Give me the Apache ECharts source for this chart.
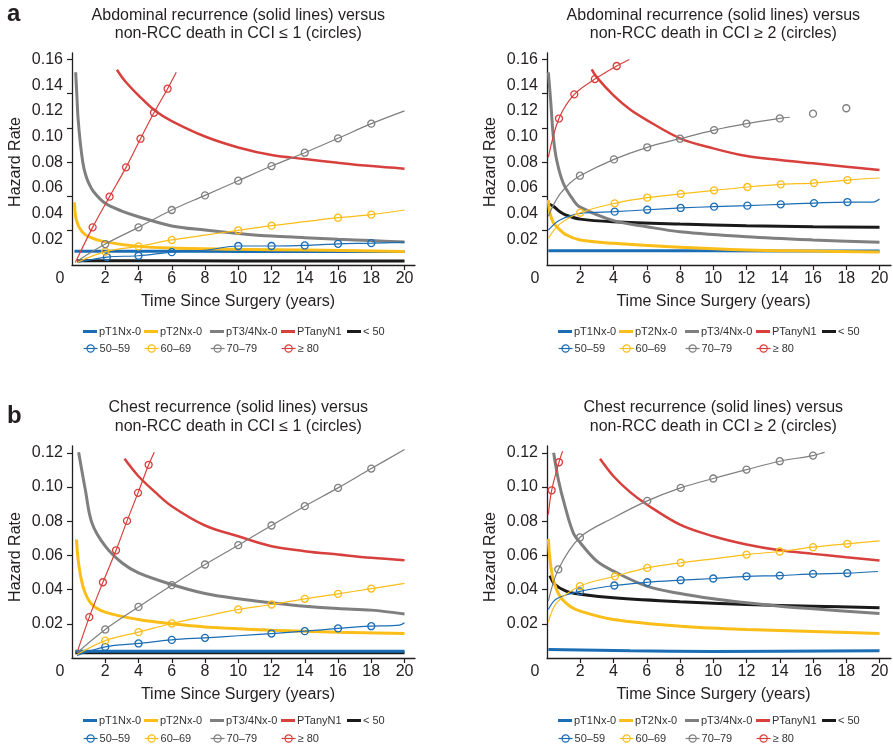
<!DOCTYPE html>
<html>
<head>
<meta charset="utf-8">
<title>Hazard rates</title>
<script src="https://cdn.jsdelivr.net/npm/echarts@6.0.0/dist/echarts.min.js"></script>
<style>
  html, body { margin: 0; padding: 0; background: #fff; }
  #chart { width: 893px; height: 749px; }
</style>
</head>
<body>
<div id="chart"></div>
<script>
// ---- labels ----
const solidNames = ['pT1Nx-0', 'pT2Nx-0', 'pT3/4Nx-0', 'PTanyN1', '< 50'];
const ageNames = ['50–59', '60–69', '70–79', '≥ 80'];
const xTickLabels = [0, 2, 4, 6, 8, 10, 12, 14, 16, 18, 20];
const yLabelsAbd = [0.02, 0.04, 0.06, 0.08, 0.10, 0.12, 0.14, 0.16];
const yLabelsChest = [0.02, 0.04, 0.06, 0.08, 0.10, 0.12];
// the abdominal panels have tick marks that do not sit on the labels
const yTicksAbd = [0.0267, 0.0534, 0.0802, 0.1068, 0.1335, 0.1601];

// ---- a, CCI <= 1 : [years, hazard] (age series: third value 1 = circle drawn) ----
const abdLow_pT1 = [[0.15, 0.0107], [5, 0.0107], [10, 0.0106], [15, 0.0106], [20, 0.0105]];
const abdLow_pT2 = [[0.15, 0.0488], [0.26, 0.035], [0.6, 0.026], [1.1, 0.0215], [2, 0.018], [4, 0.0145], [6, 0.0132], [10, 0.0122], [14, 0.0116], [20, 0.0106]];
const abdLow_pT34 = [[0.22, 0.150], [0.3, 0.130], [0.36, 0.115], [0.5, 0.095], [0.65, 0.080], [0.8, 0.071], [1.0, 0.064], [1.3, 0.057], [2, 0.048], [3, 0.042], [4, 0.0376], [6, 0.0304], [8, 0.0272], [10, 0.0246], [12, 0.0225], [14, 0.0213], [16, 0.0200], [18, 0.0190], [20, 0.0179]];
const abdLow_pTN1 = [[2.7, 0.152], [3.2, 0.143], [4, 0.132], [5, 0.120], [6, 0.112], [8, 0.100], [10, 0.0915], [12, 0.0856], [14, 0.0825], [16, 0.0796], [18, 0.0770], [20, 0.0750]];
const abdLow_lt50 = [[0.3, 0.0033], [10, 0.0032], [20, 0.0031]];
const abdLow_a5059 = [[0.3, 0.002, 0], [2.1, 0.0062, 1], [4, 0.0072, 1], [6, 0.0100, 1], [8, 0.0115, 0], [10, 0.0148, 1], [12, 0.0148, 1], [14, 0.0152, 1], [16, 0.0165, 1], [18, 0.0170, 1], [20, 0.0178, 0]];
const abdLow_a6069 = [[0.3, 0.002, 0], [2, 0.0104, 1], [4, 0.0145, 1], [6, 0.0195, 1], [8, 0.0232, 0], [10, 0.0270, 1], [12, 0.0306, 1], [14, 0.0337, 0], [16, 0.0368, 1], [18, 0.0392, 1], [20, 0.0428, 0]];
const abdLow_a7079 = [[0.3, 0.003, 0], [2, 0.0163, 1], [4, 0.0293, 1], [6, 0.0428, 1], [8, 0.0542, 1], [10, 0.0656, 1], [12, 0.0770, 1], [14, 0.0874, 1], [16, 0.0986, 1], [18, 0.1100, 1], [20, 0.1200, 0]];
const abdLow_a80 = [[0.2, 0.002, 0], [1.24, 0.0293, 1], [2.26, 0.0532, 1], [3.25, 0.0760, 1], [4.12, 0.0983, 1], [4.93, 0.1185, 1], [5.75, 0.1372, 1], [6.27, 0.1500, 0]];

// ---- a, CCI >= 2 ----
const abdHigh_pT1 = [[0.08, 0.0111], [10, 0.0110], [20, 0.0109]];
const abdHigh_pT2 = [[0.08, 0.0506], [0.18, 0.0402], [0.38, 0.0330], [0.58, 0.0298], [1.18, 0.0233], [2, 0.0195], [4, 0.0169], [8, 0.0138], [12, 0.0117], [16, 0.0108], [20, 0.0101]];
const abdHigh_pT34 = [[0.08, 0.150], [0.22, 0.128], [0.38, 0.0999], [0.58, 0.0817], [0.98, 0.0636], [1.58, 0.0506], [2, 0.0450], [4, 0.0345], [6, 0.0298], [8, 0.0259], [12, 0.0220], [16, 0.0195], [20, 0.0177]];
const abdHigh_pTN1 = [[2.69, 0.1523], [3, 0.146], [4, 0.132], [5, 0.121], [6, 0.1128], [8, 0.0986], [10, 0.0908], [12, 0.0848], [14, 0.0817], [16, 0.0791], [18, 0.0765], [20, 0.0739]];
const abdHigh_lt50 = [[0.13, 0.0475], [0.4, 0.0455], [0.8, 0.0412], [1.2, 0.0385], [2, 0.0357], [4, 0.0337], [8, 0.0319], [12, 0.0306], [16, 0.0298], [20, 0.0293]];
const abdHigh_a5059 = [[0.08, 0.0272, 0], [0.78, 0.0350, 0], [2, 0.0402, 0], [4.07, 0.0415, 1], [6.03, 0.0430, 1], [8.04, 0.0444, 1], [10.05, 0.0454, 1], [12.05, 0.0462, 1], [14.06, 0.0472, 1], [16.06, 0.0482, 1], [18.07, 0.0490, 1], [19.6, 0.0490, 0], [20, 0.0514, 0]];
const abdHigh_a6069 = [[0.08, 0.0208, 0], [0.78, 0.0320, 0], [2, 0.0407, 1], [4.07, 0.0480, 1], [6.03, 0.0524, 1], [8.04, 0.0553, 1], [10.05, 0.0581, 1], [12.05, 0.0607, 1], [14.06, 0.0628, 1], [16.06, 0.0638, 1], [18.07, 0.0661, 1], [20, 0.0677, 0]];
const abdHigh_a7079 = [[0.08, 0.0380, 0], [0.4, 0.0470, 0], [0.8, 0.0555, 0], [1.4, 0.0640, 0], [1.98, 0.0695, 1], [4.03, 0.0822, 1], [6.03, 0.0916, 1], [8, 0.0983, 1], [10.05, 0.1050, 1], [12, 0.1100, 1], [14, 0.1141, 1], [14.6, 0.1150, 0], [15.3, '-', 0], [16, 0.1178, 1], [17, '-', 0], [18, 0.1220, 1]];
const abdHigh_a80 = [[0.08, 0.0838, 0], [0.72, 0.1140, 1], [1.64, 0.1328, 1], [2.88, 0.1447, 1], [4.19, 0.1549, 1], [4.95, 0.1600, 0]];

// ---- b, CCI <= 1 ----
const chestLow_pT1 = [[0.2, 0.0040], [10, 0.0040], [20, 0.0040]];
const chestLow_pT2 = [[0.27, 0.0693], [0.42, 0.0537], [0.72, 0.0400], [1.2, 0.0313], [2, 0.0268], [4, 0.0225], [6, 0.0200], [8, 0.0182], [12, 0.0163], [16, 0.0151], [20, 0.0143]];
const chestLow_pT34 = [[0.4, 0.1204], [0.8, 0.0985], [1.2, 0.0790], [2, 0.0654], [3, 0.0557], [4, 0.0498], [6, 0.0430], [8, 0.0377], [10, 0.0346], [12, 0.0323], [14, 0.0303], [16, 0.0289], [18, 0.0280], [20, 0.0258]];
const chestLow_pTN1 = [[3.16, 0.1165], [4, 0.1063], [5, 0.0970], [6, 0.0888], [8, 0.0775], [10, 0.0712], [12, 0.0654], [14, 0.0625], [16, 0.0605], [18, 0.0586], [20, 0.0572]];
const chestLow_lt50 = [[0.2, 0.0031], [10, 0.0031], [20, 0.0031]];
const chestLow_a5059 = [[0.3, 0.0015, 0], [2, 0.0065, 1], [4, 0.0085, 1], [6, 0.0106, 1], [8, 0.0118, 1], [10, 0.0130, 0], [12, 0.0143, 1], [14, 0.0157, 1], [16, 0.0173, 1], [18, 0.0186, 1], [19.7, 0.0192, 0], [20, 0.0206, 0]];
const chestLow_a6069 = [[0.3, 0.002, 0], [2, 0.0102, 1], [4, 0.0151, 1], [6, 0.0202, 1], [8, 0.0244, 0], [10, 0.0284, 1], [12, 0.0313, 1], [14, 0.0346, 1], [16, 0.0375, 1], [18, 0.0406, 1], [20, 0.0436, 0]];
const chestLow_a7079 = [[0.3, 0.003, 0], [2, 0.0167, 1], [4, 0.0299, 1], [6, 0.0426, 1], [8, 0.0547, 1], [10, 0.0660, 1], [12, 0.0775, 1], [14, 0.0888, 1], [16, 0.0995, 1], [18, 0.1108, 1], [20, 0.1219, 0]];
const chestLow_a80 = [[0.3, 0.003, 0], [1.04, 0.0239, 1], [1.86, 0.0443, 1], [2.65, 0.0630, 1], [3.31, 0.0802, 1], [3.97, 0.0966, 1], [4.61, 0.1130, 1], [4.95, 0.1204, 0]];

// ---- b, CCI >= 2 ----
const chestHigh_pT1 = [[0.08, 0.0050], [5, 0.0042], [10, 0.0038], [20, 0.0042]];
const chestHigh_pT2 = [[0.08, 0.0697], [0.18, 0.0576], [0.38, 0.0459], [0.78, 0.0361], [1.38, 0.0303], [2, 0.0274], [4, 0.0225], [8, 0.0186], [12, 0.0167], [16, 0.0155], [20, 0.0143]];
const chestHigh_pT34 = [[0.4, 0.1200], [0.68, 0.1044], [1.08, 0.0888], [1.58, 0.0732], [2, 0.0674], [3, 0.0566], [4, 0.0508], [6, 0.0420], [8, 0.0377], [10, 0.0346], [12, 0.0323], [14, 0.0303], [16, 0.0288], [20, 0.0260]];
const chestHigh_pTN1 = [[3.19, 0.1165], [4, 0.1063], [5, 0.0970], [6, 0.0898], [8, 0.0780], [10, 0.0712], [12, 0.0664], [14, 0.0630], [16, 0.0609], [18, 0.0589], [20, 0.0570]];
const chestHigh_lt50 = [[0.18, 0.0482], [0.48, 0.0430], [1.18, 0.0390], [2, 0.0373], [4, 0.0352], [8, 0.0329], [12, 0.0313], [16, 0.0303], [20, 0.0294]];
const chestHigh_a5059 = [[0.08, 0.0284, 0], [0.58, 0.0346, 0], [1.98, 0.0390, 1], [4.05, 0.0424, 1], [6.03, 0.0443, 1], [8.04, 0.0455, 1], [10, 0.0465, 1], [12, 0.0478, 1], [14, 0.0482, 1], [16, 0.0492, 1], [18.06, 0.0496, 1], [19.9, 0.0506, 0]];
const chestHigh_a6069 = [[0.08, 0.0209, 0], [0.58, 0.0323, 0], [1.98, 0.0420, 1], [4.09, 0.0478, 1], [6.03, 0.0527, 1], [8.04, 0.0557, 1], [10, 0.0580, 0], [12, 0.0605, 1], [14, 0.0623, 1], [16, 0.0648, 1], [18.06, 0.0668, 1], [20, 0.0685, 0]];
const chestHigh_a7079 = [[0.08, 0.0332, 0], [0.68, 0.0518, 1], [1.98, 0.0705, 1], [4, 0.0820, 0], [6.03, 0.0919, 1], [8.04, 0.0995, 1], [10, 0.1050, 1], [12, 0.1102, 1], [14, 0.1151, 1], [16, 0.1184, 1], [16.7, 0.1204, 0]];
const chestHigh_a80 = [[0.08, 0.0839, 0], [0.28, 0.0981, 1], [0.72, 0.1145, 1], [0.94, 0.1210, 0]];

// ---- styling ----
const FONT = '"Liberation Sans", Arial, sans-serif';
const INK = '#231f20';
const solidColors = ['#1b6db5', '#fbbd18', '#7f7f7f', '#d7403c', '#1a1a1a'];
const ageColors = ['#1b6db5', '#fbbd18', '#7f7f7f', '#d7403c'];
const legendCols = [11, 72, 138, 209, 275]; // offsets from the grid's left edge
const drawOrder = [4, 0, 1, 2, 3];          // black first so blue sits on top of it

const panels = [
  { left: 72, top: 53, width: 343, yMax: 0.165, yLabels: yLabelsAbd, yTicks: yTicksAbd, namePad: 6,
    title: 'Abdominal recurrence (solid lines) versus\nnon-RCC death in CCI ≤ 1 (circles)', titleY: 7, lh: 18,
    legendTop: [326, 343],
    solids: [abdLow_pT1, abdLow_pT2, abdLow_pT34, abdLow_pTN1, abdLow_lt50],
    ages: [abdLow_a5059, abdLow_a6069, abdLow_a7079, abdLow_a80] },
  { left: 547, top: 53, width: 344, yMax: 0.165, yLabels: yLabelsAbd, yTicks: yTicksAbd, namePad: 6,
    title: 'Abdominal recurrence (solid lines) versus\nnon-RCC death in CCI ≥ 2 (circles)', titleY: 7, lh: 18,
    legendTop: [326, 343],
    solids: [abdHigh_pT1, abdHigh_pT2, abdHigh_pT34, abdHigh_pTN1, abdHigh_lt50],
    ages: [abdHigh_a5059, abdHigh_a6069, abdHigh_a7079, abdHigh_a80] },
  { left: 72, top: 446, width: 343, yMax: 0.124, yLabels: yLabelsChest, yTicks: yLabelsChest, namePad: 10,
    title: 'Chest recurrence (solid lines) versus\nnon-RCC death in CCI ≤ 1 (circles)', titleY: 398, lh: 19,
    legendTop: [715, 733],
    solids: [chestLow_pT1, chestLow_pT2, chestLow_pT34, chestLow_pTN1, chestLow_lt50],
    ages: [chestLow_a5059, chestLow_a6069, chestLow_a7079, chestLow_a80] },
  { left: 547, top: 446, width: 344, yMax: 0.124, yLabels: yLabelsChest, yTicks: yLabelsChest, namePad: 10,
    title: 'Chest recurrence (solid lines) versus\nnon-RCC death in CCI ≥ 2 (circles)', titleY: 398, lh: 19,
    legendTop: [715, 733],
    solids: [chestHigh_pT1, chestHigh_pT2, chestHigh_pT34, chestHigh_pTN1, chestHigh_lt50],
    ages: [chestHigh_a5059, chestHigh_a6069, chestHigh_a7079, chestHigh_a80] }
];

const grids = [], xAxes = [], yAxes = [], series = [], legends = [], graphics = [];

panels.forEach((p, i) => {
  const xPerYear = 16.63;
  grids.push({ left: p.left, top: p.top, width: p.width, height: 212, containLabel: false });
  xAxes.push({
    type: 'value', gridIndex: i, min: 0, max: +(p.width / xPerYear).toFixed(2), interval: 2,
    splitLine: { show: false },
    axisLine: { lineStyle: { color: INK, width: 1.3 } },
    axisTick: { length: 5, customValues: xTickLabels.slice(1), lineStyle: { color: INK, width: 1.2 } },
    axisLabel: {
      customValues: xTickLabels, margin: 6,
      fontFamily: FONT, fontSize: 16, color: INK,
      formatter: v => v === 0 ? '{o|0}' : String(v),
      rich: { o: { padding: [0, 24, 0, 0], fontFamily: FONT, fontSize: 16, color: INK } }
    },
    name: 'Time Since Surgery (years)', nameLocation: 'middle', nameGap: 29,
    nameTextStyle: { fontFamily: FONT, fontSize: 16, color: INK, padding: [0, 11, 0, 0] }
  });
  yAxes.push({
    type: 'value', gridIndex: i, min: 0, max: p.yMax, interval: 0.02,
    splitLine: { show: false },
    axisLine: { show: true, lineStyle: { color: INK, width: 1.3 } },
    axisTick: { show: true, length: 5, customValues: p.yTicks, lineStyle: { color: INK, width: 1.2 } },
    axisLabel: {
      customValues: p.yLabels, margin: 9,
      fontFamily: FONT, fontSize: 16, color: INK, formatter: v => v.toFixed(2)
    },
    name: 'Hazard Rate', nameLocation: 'middle', nameGap: 48,
    nameTextStyle: { fontFamily: FONT, fontSize: 16, color: INK, padding: [0, p.namePad, 0, 0] }
  });

  drawOrder.forEach(k => {
    const c = solidColors[k];
    series.push({
      type: 'line', name: solidNames[k], xAxisIndex: i, yAxisIndex: i,
      data: p.solids[k], symbol: 'none', smooth: 0.35, silent: true, z: 2,
      itemStyle: { color: c }, lineStyle: { color: c, width: k === 3 ? 2.5 : 3 }
    });
  });
  p.ages.forEach((pts, k) => {
    const c = ageColors[k];
    series.push({
      type: 'line', name: ageNames[k], xAxisIndex: i, yAxisIndex: i,
      data: pts.map(d => ({ value: [d[0], d[1]], symbol: d[2] ? 'circle' : 'none' })),
      symbol: 'circle', symbolSize: 7, showSymbol: true, smooth: 0.35, silent: true, z: 3,
      itemStyle: { color: 'rgba(0,0,0,0)', borderColor: c, borderWidth: 1.3 },
      lineStyle: { color: c, width: 1.2 }
    });
  });

  // one small legend per entry so the two rows line up in columns
  const legendBase = {
    orient: 'horizontal', padding: 0, itemGap: 0, itemWidth: 14,
    selectedMode: false,
    textStyle: { fontFamily: FONT, fontSize: 11, color: '#333', padding: [0, 0, 0, -3] }
  };
  solidNames.forEach((n, k) => {
    legends.push(Object.assign({}, legendBase, {
      left: p.left + legendCols[k], top: p.legendTop[0], icon: 'rect', itemHeight: 3,
      data: [{ name: n, itemStyle: { color: solidColors[k] } }]
    }));
  });
  ageNames.forEach((n, k) => {
    legends.push(Object.assign({}, legendBase, {
      left: p.left + legendCols[k], top: p.legendTop[1], itemHeight: 9,
      data: [{
        name: n,
        itemStyle: { color: 'rgba(0,0,0,0)', borderColor: ageColors[k], borderWidth: 1.2 },
        lineStyle: { color: ageColors[k], width: 1.2 }
      }]
    }));
  });

  graphics.push({
    type: 'text', x: p.left + 10 * xPerYear, y: p.titleY, silent: true,
    style: { text: p.title, fill: INK, font: '16px ' + FONT, lineHeight: p.lh,
      align: 'center', verticalAlign: 'top', textAlign: 'center', textVerticalAlign: 'top' }
  });
});

graphics.push({ type: 'text', x: 7, y: 2, silent: true,
  style: { text: 'a', fill: INK, font: 'bold 24px ' + FONT, align: 'left', verticalAlign: 'top' } });
graphics.push({ type: 'text', x: 7, y: 404, silent: true,
  style: { text: 'b', fill: INK, font: 'bold 24px ' + FONT, align: 'left', verticalAlign: 'top' } });

const chart = echarts.init(document.getElementById('chart'), null, { renderer: 'canvas' });
chart.setOption({
  backgroundColor: '#fff',
  animation: false,
  grid: grids,
  xAxis: xAxes,
  yAxis: yAxes,
  legend: legends,
  series: series,
  graphic: graphics
});
</script>
</body>
</html>
